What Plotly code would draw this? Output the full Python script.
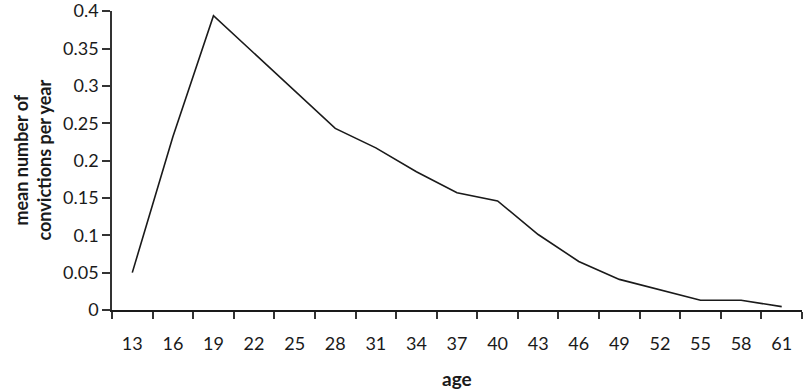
import plotly.graph_objects as go

ages = ["13", "16", "19", "22", "25", "28", "31", "34", "37", "40", "43", "46", "49", "52", "55", "58", "61"]
mean_convictions = [0.050, 0.232, 0.394, 0.344, 0.294, 0.243, 0.217, 0.185, 0.157, 0.146, 0.101, 0.065, 0.041, 0.027, 0.013, 0.013, 0.0045]
y_ticks = [0, 0.05, 0.1, 0.15, 0.2, 0.25, 0.3, 0.35, 0.4]
y_tick_labels = ["0", "0.05", "0.1", "0.15", "0.2", "0.25", "0.3", "0.35", "0.4"]

FONT = "Lato, 'Open Sans', sans-serif"

fig = go.Figure(
    go.Scatter(
        x=ages,
        y=mean_convictions,
        mode="lines",
        line=dict(color="#1a1a1a", width=1.6),
        hoverinfo="x+y",
        cliponaxis=False,
    )
)

fig.update_layout(
    width=805,
    height=390,
    margin=dict(l=112, r=3, t=11, b=80, autoexpand=False),
    paper_bgcolor="white",
    plot_bgcolor="white",
    showlegend=False,
    font=dict(family=FONT, size=16, color="#1a1a1a"),
    xaxis=dict(
        type="category",
        range=[-0.5, len(ages) - 0.5],
        tickson="boundaries",
        ticks="outside",
        ticklen=7,
        tickwidth=1.5,
        tickcolor="#333",
        ticklabelstandoff=16,
        showline=True,
        linecolor="#1a1a1a",
        linewidth=2,
        showgrid=False,
        zeroline=False,
        automargin=False,
        tickfont=dict(family=FONT, size=18),
        fixedrange=True,
    ),
    yaxis=dict(
        range=[0, 0.4002],
        tickmode="array",
        tickvals=y_ticks,
        ticktext=y_tick_labels,
        ticks="outside",
        ticklen=8,
        tickwidth=1.5,
        tickcolor="#333",
        ticklabeloverflow="allow",
        showline=True,
        linecolor="#333",
        linewidth=1.5,
        showgrid=False,
        zeroline=False,
        automargin=False,
        tickfont=dict(family=FONT, size=18),
        fixedrange=True,
    ),
    annotations=[
        dict(
            text="<b>age</b>",
            xref="paper", yref="paper",
            x=0.5, y=0,
            xanchor="center", yanchor="middle",
            yshift=-68,
            showarrow=False,
            font=dict(family=FONT, size=19),
        ),
        dict(
            text="<b>mean number of<br>convictions per year</b>",
            xref="paper", yref="paper",
            x=0, y=0.5,
            xanchor="center", yanchor="middle",
            xshift=-80,
            textangle=-90,
            showarrow=False,
            font=dict(family=FONT, size=18),
        ),
    ],
)

fig.write_html(
    "out.html",
    config={"displayModeBar": False},
    post_script="document.body.style.margin='0';document.body.style.overflow='hidden';",
)
